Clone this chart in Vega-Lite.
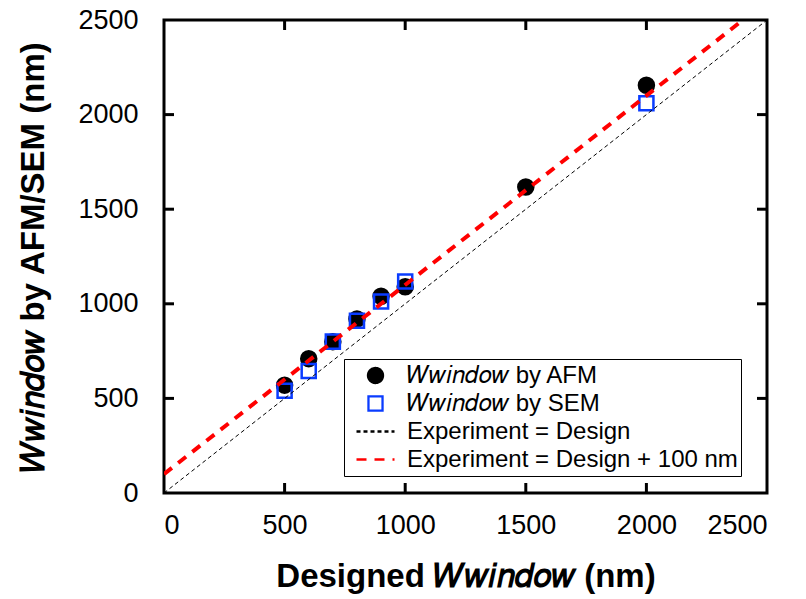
{
  "$schema": "https://vega.github.io/schema/vega-lite/v6.json",
  "width": 603,
  "height": 473,
  "autosize": {"type": "none"},
  "padding": {"left": 164, "top": 20, "right": 39, "bottom": 106},
  "background": "white",
  "config": {
    "view": {"stroke": "black", "strokeWidth": 3},
    "font": "Liberation Sans",
    "axis": {
      "format": "d",
      "labelFont": "Liberation Sans",
      "labelFontSize": 27,
      "labelColor": "black",
      "titleFont": "Liberation Sans",
      "titleFontSize": 33,
      "titleFontWeight": "bold",
      "titleColor": "black"
    }
  },
  "datasets": {
    "points": [
      {"series": "𝑊𝑤𝑖𝑛𝑑𝑜𝑤 by AFM", "designed": 500, "measured": 570},
      {"series": "𝑊𝑤𝑖𝑛𝑑𝑜𝑤 by AFM", "designed": 600, "measured": 710},
      {"series": "𝑊𝑤𝑖𝑛𝑑𝑜𝑤 by AFM", "designed": 700, "measured": 800},
      {"series": "𝑊𝑤𝑖𝑛𝑑𝑜𝑤 by AFM", "designed": 800, "measured": 920},
      {"series": "𝑊𝑤𝑖𝑛𝑑𝑜𝑤 by AFM", "designed": 900, "measured": 1040},
      {"series": "𝑊𝑤𝑖𝑛𝑑𝑜𝑤 by AFM", "designed": 1000, "measured": 1090},
      {"series": "𝑊𝑤𝑖𝑛𝑑𝑜𝑤 by AFM", "designed": 1500, "measured": 1617},
      {"series": "𝑊𝑤𝑖𝑛𝑑𝑜𝑤 by AFM", "designed": 2000, "measured": 2155},
      {"series": "𝑊𝑤𝑖𝑛𝑑𝑜𝑤 by SEM", "designed": 500, "measured": 540},
      {"series": "𝑊𝑤𝑖𝑛𝑑𝑜𝑤 by SEM", "designed": 600, "measured": 645},
      {"series": "𝑊𝑤𝑖𝑛𝑑𝑜𝑤 by SEM", "designed": 700, "measured": 800},
      {"series": "𝑊𝑤𝑖𝑛𝑑𝑜𝑤 by SEM", "designed": 800, "measured": 910},
      {"series": "𝑊𝑤𝑖𝑛𝑑𝑜𝑤 by SEM", "designed": 900, "measured": 1012},
      {"series": "𝑊𝑤𝑖𝑛𝑑𝑜𝑤 by SEM", "designed": 1000, "measured": 1118},
      {"series": "𝑊𝑤𝑖𝑛𝑑𝑜𝑤 by SEM", "designed": 2000, "measured": 2060}
    ],
    "lines": [
      {"series": "Experiment = Design", "designed": 0, "measured": 0},
      {"series": "Experiment = Design", "designed": 2500, "measured": 2500},
      {"series": "Experiment = Design + 100 nm", "designed": 0, "measured": 100},
      {"series": "Experiment = Design + 100 nm", "designed": 2400, "measured": 2500}
    ],
    "ticks": [{"v": 500}, {"v": 1000}, {"v": 1500}, {"v": 2000}]
  },
  "layer": [
    {
      "data": {"name": "points"},
      "mark": {"type": "point", "size": 1444, "opacity": 1},
      "encoding": {
        "x": {
          "field": "designed", "type": "quantitative",
          "scale": {"domain": [0, 2500], "nice": false, "zero": false},
          "axis": null
        },
        "y": {
          "field": "measured", "type": "quantitative",
          "scale": {"domain": [0, 2500], "nice": false, "zero": false},
          "axis": null
        },
        "color": {
          "field": "series", "type": "nominal",
          "scale": {
            "domain": ["𝑊𝑤𝑖𝑛𝑑𝑜𝑤 by AFM", "𝑊𝑤𝑖𝑛𝑑𝑜𝑤 by SEM", "Experiment = Design", "Experiment = Design + 100 nm"],
            "range": ["black", "#0a3cff", "black", "#ff0000"]
          },
          "legend": {
            "orient": "none",
            "legendX": 180,
            "legendY": 339,
            "title": null,
            "fillColor": "white",
            "strokeColor": "black",
            "padding": 3,
            "symbolSize": 1444,
            "symbolStrokeWidth": 2.3,
            "clipHeight": 27,
            "symbolOffset": 8,
            "labelOffset": 11,
            "rowPadding": 1,
            "labelFont": "Liberation Sans",
            "labelFontSize": 24,
            "labelColor": "black",
            "labelLimit": 0
          }
        },
        "shape": {
          "field": "series", "type": "nominal",
          "scale": {
            "domain": ["𝑊𝑤𝑖𝑛𝑑𝑜𝑤 by AFM", "𝑊𝑤𝑖𝑛𝑑𝑜𝑤 by SEM", "Experiment = Design", "Experiment = Design + 100 nm"],
            "range": [
              "M0.395,0A0.395,0.395,0,1,1,-0.395,0A0.395,0.395,0,1,1,0.395,0Z",
              "M-0.37,-0.37H0.37V0.37H-0.37Z",
              "M-1,0H1",
              "M-1,0H1"
            ]
          }
        },
        "fill": {
          "field": "series", "type": "nominal",
          "scale": {
            "domain": ["𝑊𝑤𝑖𝑛𝑑𝑜𝑤 by AFM", "𝑊𝑤𝑖𝑛𝑑𝑜𝑤 by SEM", "Experiment = Design", "Experiment = Design + 100 nm"],
            "range": ["black", "transparent", "transparent", "transparent"]
          }
        },
        "strokeWidth": {
          "field": "series", "type": "nominal",
          "scale": {
            "type": "ordinal",
            "domain": ["𝑊𝑤𝑖𝑛𝑑𝑜𝑤 by AFM", "𝑊𝑤𝑖𝑛𝑑𝑜𝑤 by SEM", "Experiment = Design", "Experiment = Design + 100 nm"],
            "range": [2.5, 2.5, 1.3, 3]
          },
          "legend": null
        }
      }
    },
    {
      "data": {"name": "lines"},
      "mark": {"type": "line", "clip": true},
      "encoding": {
        "x": {
          "field": "designed", "type": "quantitative",
          "scale": {"domain": [0, 2500], "nice": false, "zero": false},
          "axis": {"orient": "bottom", "values": [0, 500, 1000, 1500, 2000, 2500], "domain": false, "ticks": false, "grid": false, "labelPadding": 19, "title": "Designed 𝑊𝑤𝑖𝑛𝑑𝑜𝑤 (nm)", "titlePadding": 22}
        },
        "y": {
          "field": "measured", "type": "quantitative",
          "scale": {"domain": [0, 2500], "nice": false, "zero": false},
          "axis": {"orient": "left", "values": [0, 500, 1000, 1500, 2000, 2500], "domain": false, "ticks": false, "grid": false, "labelPadding": 26, "title": "𝑊𝑤𝑖𝑛𝑑𝑜𝑤 by AFM/SEM (nm)", "titlePadding": 27}
        },
        "color": {"field": "series", "type": "nominal"},
        "strokeDash": {
          "field": "series", "type": "nominal",
          "scale": {
            "domain": ["𝑊𝑤𝑖𝑛𝑑𝑜𝑤 by AFM", "𝑊𝑤𝑖𝑛𝑑𝑜𝑤 by SEM", "Experiment = Design", "Experiment = Design + 100 nm"],
            "range": [[1, 0], [1, 0], [4, 3], [10, 8]]
          }
        },
        "strokeWidth": {"field": "series", "type": "nominal", "legend": null}
      }
    },
    {
      "data": {"name": "ticks"},
      "mark": {"type": "tick", "orient": "vertical", "size": 10, "thickness": 3, "color": "black", "opacity": 1, "yOffset": -5},
      "encoding": {
        "x": {"field": "v", "type": "quantitative", "axis": null},
        "y": {"datum": 0, "type": "quantitative", "axis": null}
      }
    },
    {
      "data": {"name": "ticks"},
      "mark": {"type": "tick", "orient": "vertical", "size": 10, "thickness": 3, "color": "black", "opacity": 1, "yOffset": 5},
      "encoding": {
        "x": {"field": "v", "type": "quantitative", "axis": null},
        "y": {"datum": 2500, "type": "quantitative", "axis": null}
      }
    },
    {
      "data": {"name": "ticks"},
      "mark": {"type": "tick", "orient": "horizontal", "size": 10, "thickness": 3, "color": "black", "opacity": 1, "xOffset": 5},
      "encoding": {
        "y": {"field": "v", "type": "quantitative", "axis": null},
        "x": {"datum": 0, "type": "quantitative", "axis": null}
      }
    },
    {
      "data": {"name": "ticks"},
      "mark": {"type": "tick", "orient": "horizontal", "size": 10, "thickness": 3, "color": "black", "opacity": 1, "xOffset": -5},
      "encoding": {
        "y": {"field": "v", "type": "quantitative", "axis": null},
        "x": {"datum": 2500, "type": "quantitative", "axis": null}
      }
    }
  ],
  "resolve": {"axis": {"x": "independent", "y": "independent"}}
}
